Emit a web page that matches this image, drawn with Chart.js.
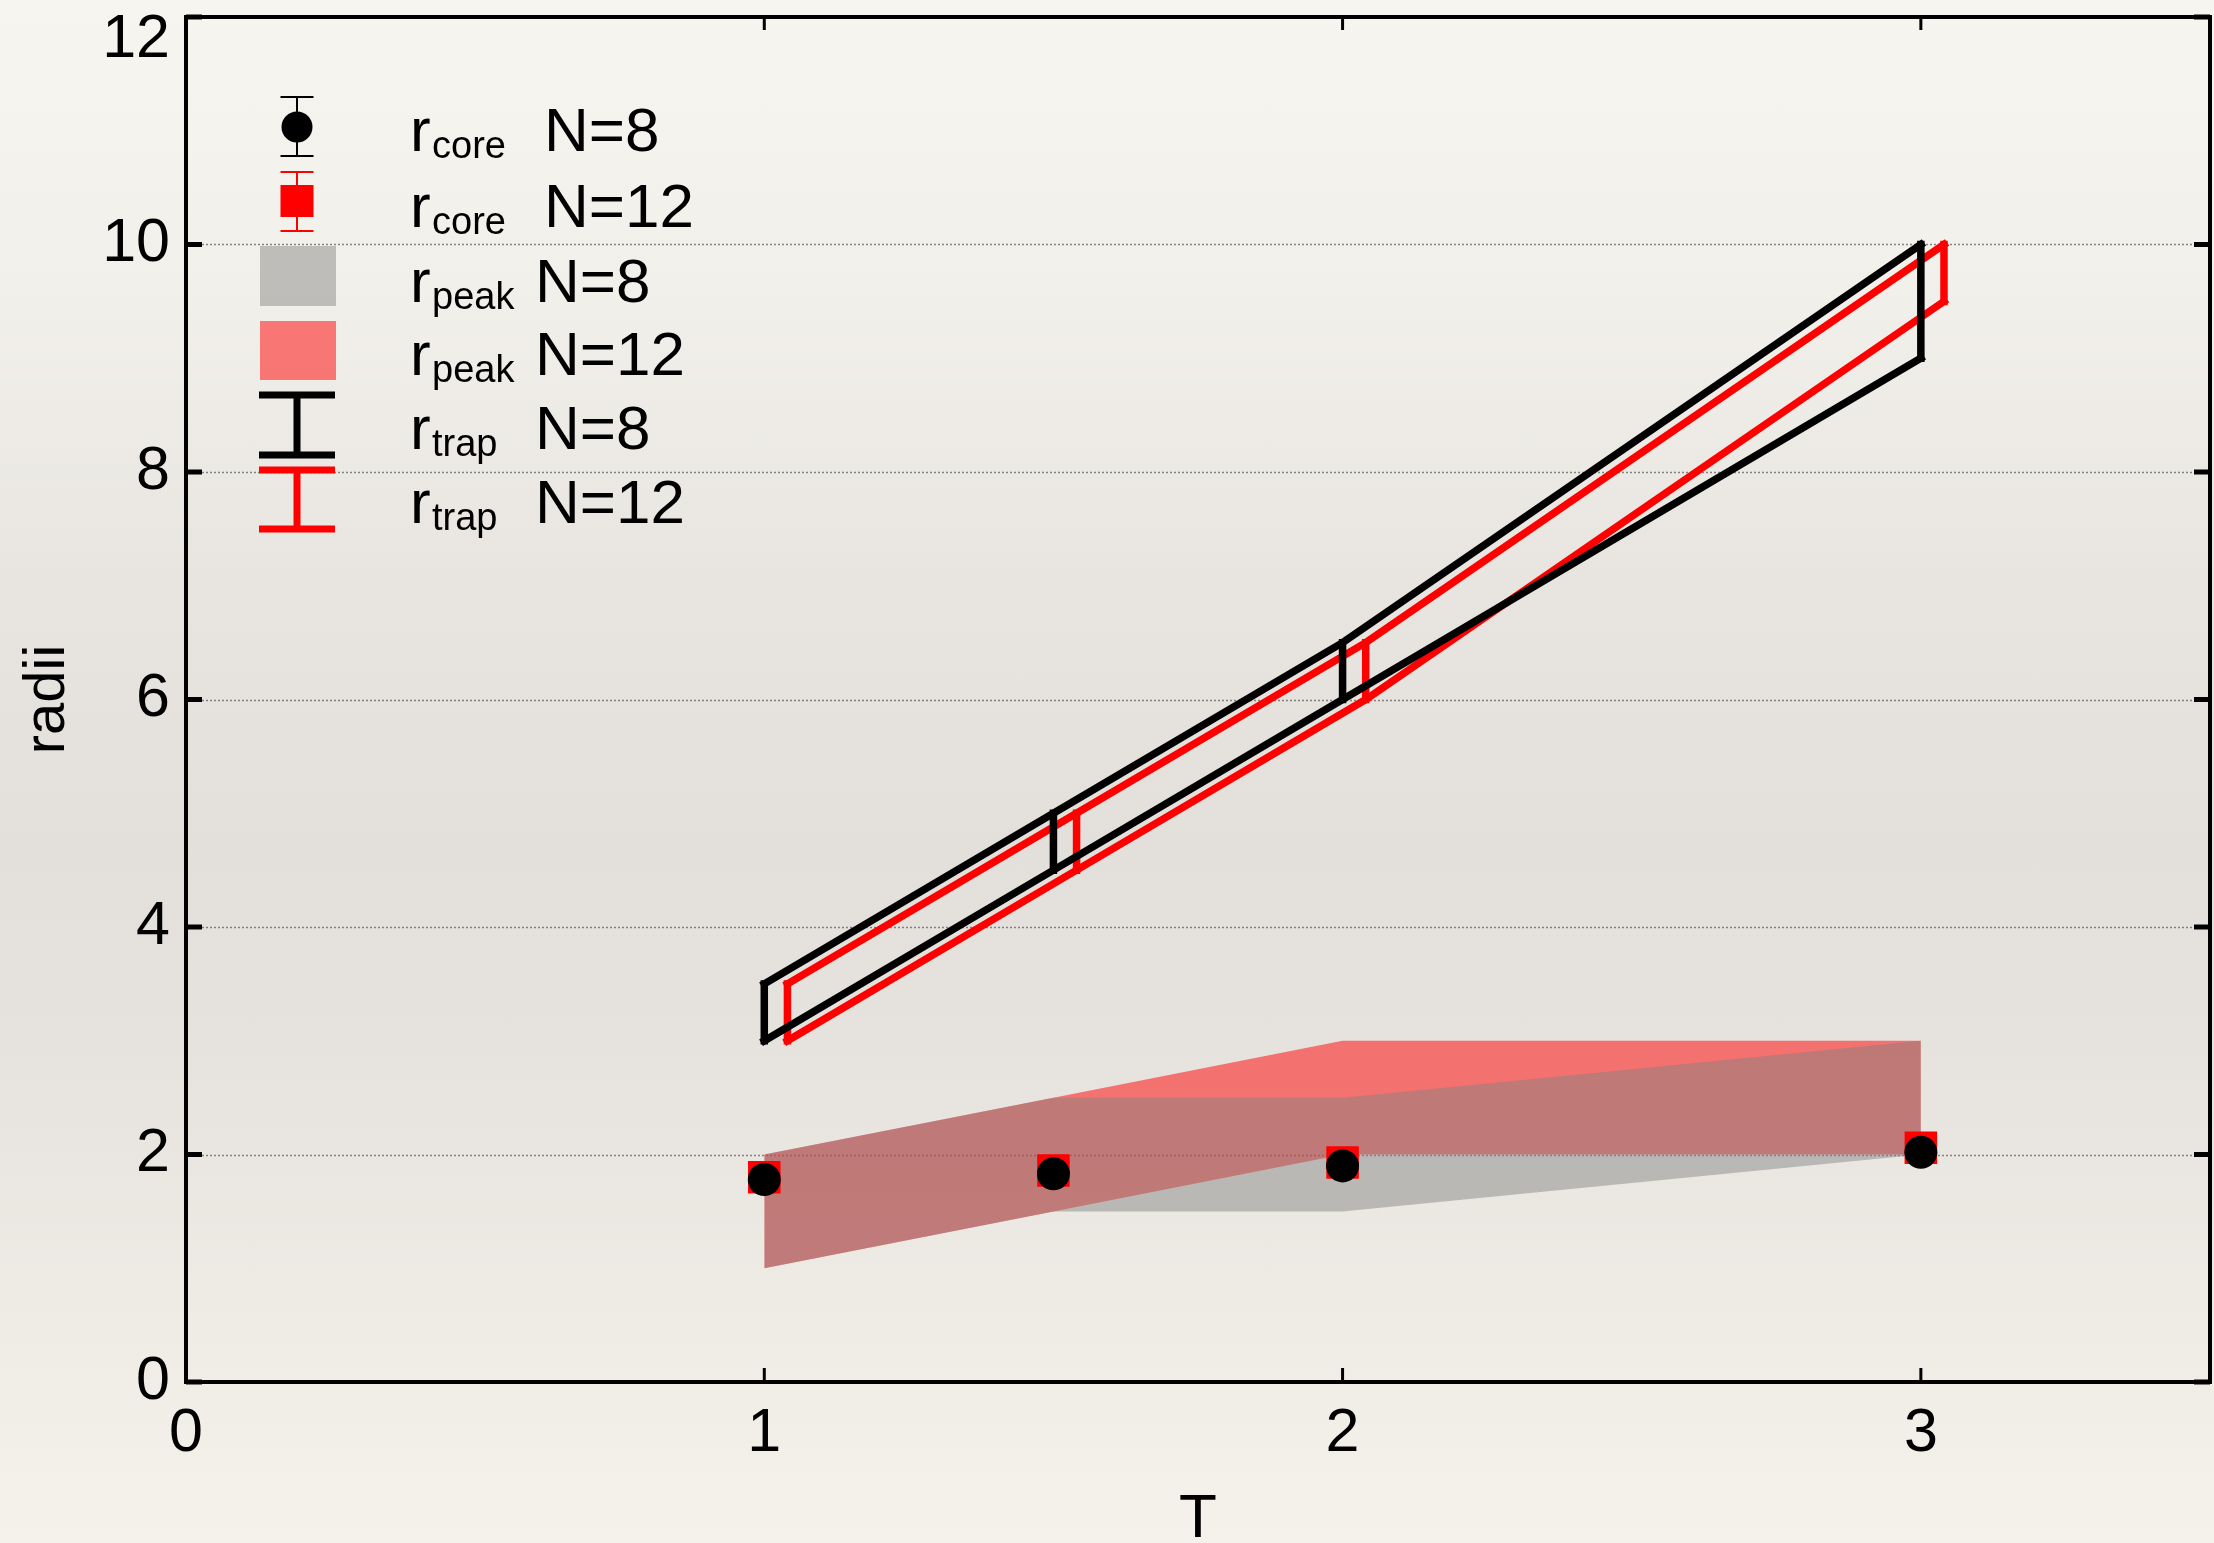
<!DOCTYPE html>
<html>
<head>
<meta charset="utf-8">
<title>radii vs T</title>
<script src="https://cdn.jsdelivr.net/npm/chart.js@4.4.1/dist/chart.umd.min.js"></script>
<style>
    html, body { margin: 0; padding: 0; }
    body {
        width: 2214px;
        height: 1543px;
        overflow: hidden;
        background: linear-gradient(to bottom,
            #f7f5ef 0%, #f2f0ea 18%, #e8e5e0 38%, #e3e0db 55%,
            #e6e3de 68%, #eeebe5 84%, #f4f2eb 100%);
    }
    #wrap { position: relative; width: 2214px; height: 1543px; }
</style>
</head>
<body>
<div id="wrap"><canvas id="radiiChart" width="2214" height="1543"></canvas></div>
<script>
(function () {
    'use strict';

    // ── Data ──────────────────────────────────────────────────────────────────
    const T_VALUES    = [1, 1.5, 2, 3];
    const T_SHIFTED   = [1.04, 1.54, 2.04, 3.04];   // N=12 trap is drawn nudged right

    const CORE_N8     = [1.78, 1.83, 1.90, 2.02];
    const CORE_N12    = [1.80, 1.86, 1.93, 2.06];

    const PEAK_N8_LO  = [1.0, 1.5, 1.5, 2.0];
    const PEAK_N8_HI  = [2.0, 2.5, 2.5, 3.0];
    const PEAK_N12_LO = [1.0, 1.5, 2.0, 2.0];
    const PEAK_N12_HI = [2.0, 2.5, 3.0, 3.0];

    const TRAP_N8_LO  = [3.0, 4.5, 6.0, 9.0];
    const TRAP_N8_HI  = [3.5, 5.0, 6.5, 10.0];
    const TRAP_N12_LO = [3.0, 4.5, 6.0, 9.5];
    const TRAP_N12_HI = [3.5, 5.0, 6.5, 10.0];

    const LEGEND_ROWS = [
        { sub: 'core', label: 'N=8'  },
        { sub: 'core', label: 'N=12' },
        { sub: 'peak', label: 'N=8'  },
        { sub: 'peak', label: 'N=12' },
        { sub: 'trap', label: 'N=8'  },
        { sub: 'trap', label: 'N=12' },
    ];

    // ── Palette ───────────────────────────────────────────────────────────────
    const COLORS = {
        black:    '#000000',
        red:      '#ff0000',
        greyFill: 'rgba(129,129,129,0.46)',
        redFill:  'rgba(255,0,0,0.5)',
        grid:     'rgba(95,95,95,0.75)',
    };
    const FAMILY = '"Liberation Sans", Arial, Helvetica, sans-serif';

    // ── Helpers ───────────────────────────────────────────────────────────────
    const pts = (xs, ys) => xs.map((x, i) => ({ x: x, y: ys[i] }));

    // vertical bars lo→hi at every x, broken apart with null gaps
    const bars = (xs, lo, hi) => xs.flatMap((x, i) => [
        { x: x, y: lo[i] }, { x: x, y: hi[i] }, { x: x, y: null }
    ]);

    const lineSet = (data, color) => ({
        data: data,
        borderColor: color,
        borderWidth: 7.5,
        borderCapStyle: 'square',
        borderJoinStyle: 'miter',
        pointRadius: 0,
        pointHoverRadius: 0,
        fill: false,
        tension: 0,
        spanGaps: false,
    });

    const bandEdge = (data, fillColor, fillTo) => ({
        data: data,
        borderWidth: 0,
        borderColor: 'rgba(0,0,0,0)',
        backgroundColor: fillColor,
        pointRadius: 0,
        pointHoverRadius: 0,
        fill: fillTo,
        tension: 0,
    });

    // index 0 is painted last (on top)
    const datasets = [
        {   // r_core N=8
            data: pts(T_VALUES, CORE_N8),
            showLine: false,
            pointStyle: 'circle',
            pointRadius: 16.5,
            pointBackgroundColor: COLORS.black,
            pointBorderColor: COLORS.black,
            pointBorderWidth: 0,
        },
        {   // r_core N=12
            data: pts(T_VALUES, CORE_N12),
            showLine: false,
            pointStyle: 'rect',
            pointRadius: 23,
            pointBackgroundColor: COLORS.red,
            pointBorderColor: COLORS.red,
            pointBorderWidth: 0,
        },
        lineSet(pts(T_VALUES, TRAP_N8_HI), COLORS.black),
        lineSet(pts(T_VALUES, TRAP_N8_LO), COLORS.black),
        lineSet(bars(T_VALUES, TRAP_N8_LO, TRAP_N8_HI), COLORS.black),
        lineSet(pts(T_SHIFTED, TRAP_N12_HI), COLORS.red),
        lineSet(pts(T_SHIFTED, TRAP_N12_LO), COLORS.red),
        lineSet(bars(T_SHIFTED, TRAP_N12_LO, TRAP_N12_HI), COLORS.red),
        bandEdge(pts(T_VALUES, PEAK_N8_LO), COLORS.greyFill, '+1'),
        bandEdge(pts(T_VALUES, PEAK_N8_HI), COLORS.greyFill, false),
        bandEdge(pts(T_VALUES, PEAK_N12_LO), COLORS.redFill, '+1'),
        bandEdge(pts(T_VALUES, PEAK_N12_HI), COLORS.redFill, false),
    ];

    // ── Legend (custom, with subscripts) ──────────────────────────────────────
    function seg(ctx, x0, y0, x1, y1) {
        ctx.beginPath();
        ctx.moveTo(x0, y0);
        ctx.lineTo(x1, y1);
        ctx.stroke();
    }

    function errBar(ctx, cx, top, bottom, half, width, color) {
        ctx.strokeStyle = color;
        ctx.lineWidth = width;
        seg(ctx, cx, top, cx, bottom);
        seg(ctx, cx - half, top, cx + half, top);
        seg(ctx, cx - half, bottom, cx + half, bottom);
    }

    function drawLegend(ctx) {
        const cx = 297;
        ctx.save();
        ctx.lineCap = 'butt';

        // row 1: black circle with thin error bar
        errBar(ctx, cx, 97, 156, 16.5, 2, COLORS.black);
        ctx.fillStyle = COLORS.black;
        ctx.beginPath();
        ctx.ellipse(cx, 127, 15.5, 15.5, 0, 0, Math.PI * 2);
        ctx.fill();

        // row 2: red square with thin error bar
        errBar(ctx, cx, 172, 231, 16.5, 2, COLORS.red);
        ctx.fillStyle = COLORS.red;
        ctx.fillRect(cx - 16.5, 185, 33, 32);

        // rows 3-4: band swatches
        ctx.fillStyle = COLORS.greyFill;
        ctx.fillRect(260, 246, 76, 60);
        ctx.fillStyle = COLORS.redFill;
        ctx.fillRect(260, 321, 76, 59);

        // rows 5-6: I-beams
        errBar(ctx, cx, 395, 455, 38, 7, COLORS.black);
        errBar(ctx, cx, 470, 529, 38, 7, COLORS.red);

        // text
        const baselines = [151, 227, 302, 375, 449, 523];
        ctx.fillStyle = COLORS.black;
        ctx.textBaseline = 'alphabetic';
        ctx.textAlign = 'left';
        LEGEND_ROWS.forEach((row, i) => {
            const b = baselines[i];
            ctx.font = '62px ' + FAMILY;
            ctx.fillText('r', 410, b);
            ctx.font = '38px ' + FAMILY;
            ctx.fillText(row.sub, 432, b + 7);
            ctx.font = '62px ' + FAMILY;
            ctx.fillText(row.label, row.sub === 'core' ? 544 : 535, b);
        });
        ctx.restore();
    }

    // ── Frame, inward ticks, dotted grid ──────────────────────────────────────
    const framePlugin = {
        id: 'frame',
        beforeDatasetsDraw(chart) {
            const { ctx, chartArea: a, scales: { y } } = chart;
            ctx.save();
            ctx.strokeStyle = COLORS.grid;
            ctx.lineWidth = 1.5;
            ctx.setLineDash([2, 2]);
            y.ticks.forEach(t => {
                if (t.value <= y.min || t.value >= y.max) return;
                const py = Math.round(y.getPixelForValue(t.value)) + 0.5;
                seg(ctx, a.left, py, a.right, py);
            });
            ctx.restore();
        },
        afterDatasetsDraw(chart) {
            const { ctx, chartArea: a, scales: { x, y } } = chart;
            ctx.save();
            ctx.strokeStyle = COLORS.black;
            ctx.lineWidth = 4;
            ctx.strokeRect(a.left, a.top, a.right - a.left, a.bottom - a.top);

            ctx.lineWidth = 5;
            y.ticks.forEach(t => {
                const py = y.getPixelForValue(t.value);
                seg(ctx, a.left, py, a.left + 16, py);
                seg(ctx, a.right - 16, py, a.right, py);
            });

            ctx.lineWidth = 3;
            x.ticks.forEach(t => {
                const px = x.getPixelForValue(t.value);
                seg(ctx, px, a.bottom, px, a.bottom - 14);
                seg(ctx, px, a.top, px, a.top + 13);
            });
            ctx.restore();
        },
        afterDraw(chart) {
            drawLegend(chart.ctx);
        }
    };

    // drop the label overhang paddings so the plot box lands where it should
    const noOverhang = s => {
        s.paddingTop = 0;
        s.paddingBottom = 0;
        s.paddingLeft = 0;
        s.paddingRight = 0;
    };

    // ── Chart ─────────────────────────────────────────────────────────────────
    const tickFont = { family: FAMILY, size: 61 };

    new Chart(document.getElementById('radiiChart'), {
        type: 'line',
        data: { datasets: datasets },
        options: {
            responsive: false,
            animation: false,
            events: [],
            layout: {
                autoPadding: false,
                padding: { top: 17, right: 4, left: 0, bottom: 0 },
            },
            plugins: {
                legend:  { display: false },
                tooltip: { enabled: false },
                filler:  { propagate: false },
            },
            scales: {
                x: {
                    type: 'linear',
                    min: 0,
                    max: 3.5,
                    bounds: 'data',
                    grid:   { display: false, drawTicks: false },
                    border: { display: false },
                    ticks: {
                        stepSize: 1,
                        includeBounds: false,
                        padding: 16,
                        maxRotation: 0,
                        color: COLORS.black,
                        font: tickFont,
                    },
                    title: {
                        display: true,
                        text: 'T',
                        color: COLORS.black,
                        font: { family: FAMILY, size: 62, lineHeight: 0.74 },
                        padding: { top: 0, bottom: 0 },
                    },
                    afterFit: s => { s.height = 161; noOverhang(s); },
                },
                y: {
                    type: 'linear',
                    min: 0,
                    max: 12,
                    grid:   { display: false, drawTicks: false },
                    border: { display: false },
                    ticks: {
                        stepSize: 2,
                        padding: 16,
                        color: COLORS.black,
                        // top label sits just under the frame
                        callback: v => v === 12 ? ['', '12'] : String(v),
                        font: c => (c.tick && c.tick.value === 12)
                            ? { family: FAMILY, size: 61, lineHeight: 0.75 }
                            : tickFont,
                    },
                    title: {
                        display: true,
                        text: 'radii',
                        color: COLORS.black,
                        font: { family: FAMILY, size: 58 },
                        padding: { top: 13, bottom: 0 },
                    },
                    afterFit: s => { s.width = 186; noOverhang(s); },
                },
            },
        },
        plugins: [framePlugin],
    });
})();
</script>
</body>
</html>
